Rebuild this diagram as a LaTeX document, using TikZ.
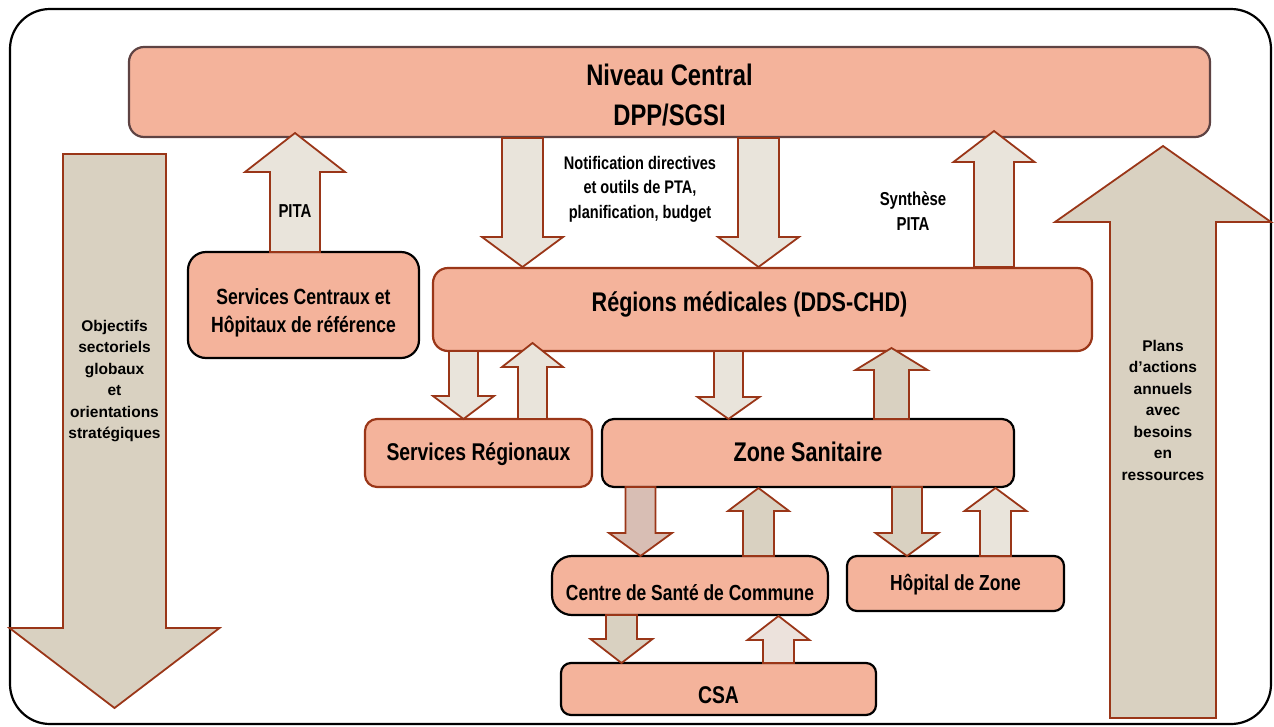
\documentclass[tikz,border=0pt]{standalone}
\usepackage{fontspec}
\setmainfont{Liberation Sans}
\newfontfamily\narrowfont{Liberation Sans}[FakeStretch=0.8]
\usepackage{tikz}

\definecolor{saumon}{HTML}{F4B39B}
\definecolor{brique}{HTML}{9A3618}
\definecolor{bordNC}{HTML}{5E4343}
\definecolor{clair}{HTML}{E9E4DB}
\definecolor{beige}{HTML}{D9D1C1}
\definecolor{rosebeige}{HTML}{D8BEB4}
\definecolor{roseclair}{HTML}{ECE2DC}

\newcommand{\taille}[2]{\fontsize{#1}{#2}\selectfont}

\tikzset{
  boite/.style={draw=black, line width=2.2pt, fill=saumon, rounded corners=12pt,
    inner sep=0pt, align=center, font=\narrowfont\bfseries},
  ligne/.style={text height=#1, text depth=0pt},
  fleche/.style={draw=brique, line width=1.8pt, line join=miter},
  etiq/.style={align=center, inner sep=0pt},
}

% block arrow: fill, x, y base, y head base, y tip, half shaft, half head
\newcommand{\flechebloc}[7]{%
  \draw[fleche, fill=#1] ({#2-#6},#3) -- ({#2+#6},#3) -- ({#2+#6},#4) -- ({#2+#7},#4)
    -- (#2,#5) -- ({#2-#7},#4) -- ({#2-#6},#4) -- cycle;}

\begin{document}
\begin{tikzpicture}[x=1pt, y=-1pt]
\useasboundingbox (0,0) rectangle (1274,726);

% frame
\draw[line width=2.2pt, rounded corners=40pt] (10,9) rectangle (1271,724);

% big side arrows
\flechebloc{beige}{114.5}{154}{628}{708}{51.5}{105}
\flechebloc{beige}{1163}{718}{222}{146}{53}{108}

% levels
\node[boite, draw=bordNC, minimum width=1081pt, minimum height=90pt, rounded corners=15pt, ligne=67.2pt,
  font=\narrowfont\bfseries\taille{29.7}{40}] (central) at (669.5,92) {Niveau Central\\DPP/SGSI};
\node[boite, minimum width=231pt, minimum height=106pt, rounded corners=18pt, ligne=55.8pt,
  font=\narrowfont\bfseries\taille{22}{28}] (sc) at (303.5,305) {Services Centraux et\\Hôpitaux de référence};
\node[boite, draw=brique, minimum width=659pt, minimum height=83pt, rounded corners=15pt, ligne=4.4pt,
  font=\narrowfont\bfseries\taille{27}{30}] (reg) at (762.5,309.5) {Régions médicales (DDS-CHD)\hspace{26pt}};
\node[boite, draw=brique, minimum width=227pt, minimum height=68pt, ligne=15.4pt,
  font=\narrowfont\bfseries\taille{24.2}{28}] (sr) at (478.5,453) {Services Régionaux};
\node[boite, minimum width=412pt, minimum height=68pt, ligne=17.4pt,
  font=\narrowfont\bfseries\taille{27}{30}] (zone) at (808,453) {Zone Sanitaire};
\node[boite, minimum width=276pt, minimum height=59pt, rounded corners=20pt, ligne=30.6pt,
  font=\narrowfont\bfseries\taille{21.8}{26}] (csc) at (690,585.5) {Centre de Santé de Commune};
\node[boite, minimum width=217pt, minimum height=55pt, rounded corners=10pt, ligne=14.6pt,
  font=\narrowfont\bfseries\taille{21.8}{26}] (hz) at (955.5,583.5) {Hôpital de Zone};
\node[boite, minimum width=315pt, minimum height=52pt, rounded corners=10pt, ligne=29.4pt,
  font=\narrowfont\bfseries\taille{24.2}{28}] (csa) at (718.5,689) {CSA};

% arrows between levels
\flechebloc{clair}{295}{252}{172}{133}{25}{50}
\flechebloc{clair}{522.5}{138}{237}{267}{20.5}{40.5}
\flechebloc{clair}{758.5}{138}{237}{267}{20.5}{40.5}
\flechebloc{clair}{994}{267}{162}{131}{20}{40.5}

\flechebloc{clair}{463.5}{351}{396}{419}{14.5}{30.5}
\flechebloc{clair}{532.5}{419}{367}{343}{14.5}{30.5}
\flechebloc{clair}{728.5}{351}{397}{419}{14.5}{31}
\flechebloc{beige}{891.5}{419}{370}{348}{17.5}{36}

\flechebloc{rosebeige}{640.5}{487}{533}{556}{15}{31.5}
\flechebloc{beige}{758.5}{556}{511}{488}{15.5}{30.5}
\flechebloc{beige}{907}{487}{533}{556}{15}{31.5}
\flechebloc{clair}{995.5}{556}{511}{488}{15.5}{31}

\flechebloc{beige}{621.5}{615}{639}{663}{15.5}{31}
\flechebloc{roseclair}{778.5}{663}{640}{616}{15.5}{31}

% labels
\node[etiq, font=\narrowfont\bfseries\taille{18.7}{20}] (pita) at (295,211) {PITA};
\node[etiq, font=\narrowfont\bfseries\taille{18.2}{24.5}] (notif) at (640,189)
  {Notification directives\\et outils de PTA,\\planification, budget};
\node[etiq, font=\narrowfont\bfseries\taille{18.7}{25}] (synth) at (913,211) {Synthèse\\PITA};
\node[etiq, font=\bfseries\taille{15.5}{21.4}] (obj) at (114.5,381)
  {Objectifs\\sectoriels\\globaux\\et\\orientations\\stratégiques};
\node[etiq, font=\bfseries\taille{15.5}{21.5}] (plans) at (1163,410)
  {Plans\\d’actions\\annuels\\avec\\besoins\\en\\ressources};

\end{tikzpicture}
\end{document}
